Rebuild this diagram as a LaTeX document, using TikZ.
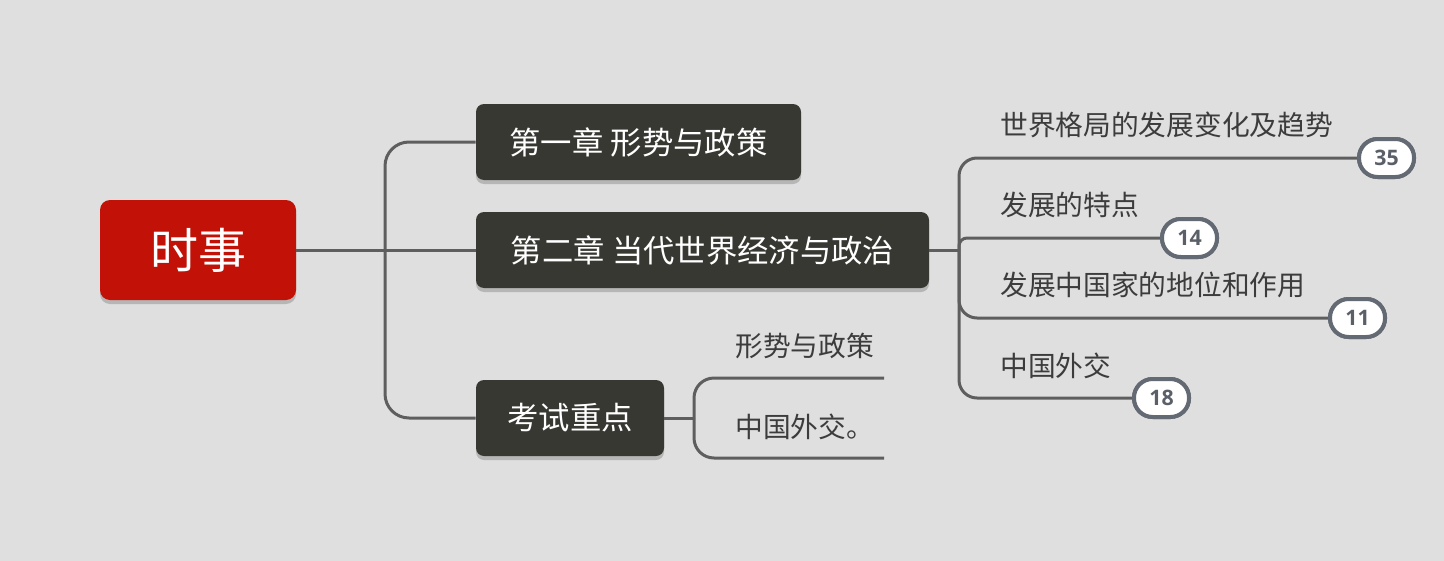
\documentclass[tikz,border=0pt]{standalone}
\usepackage{fontspec}
\setmainfont{Noto Sans CJK SC}
\newfontfamily\numfont{Open Sans}
\usetikzlibrary{shadows}
\definecolor{bgc}{HTML}{DFDFDF}
\definecolor{rootred}{HTML}{C21207}
\definecolor{darkbox}{HTML}{383833}
\definecolor{linec}{HTML}{5E5E5E}
\definecolor{badgec}{HTML}{646A73}
\definecolor{badgetxt}{HTML}{5A5F68}
\definecolor{txtc}{HTML}{3C3C3C}
\tikzset{
  rootbox/.style={fill=rootred, rounded corners=7.5pt, minimum width=147pt, minimum height=75pt,
    text=white, font=\fontsize{36pt}{40pt}\selectfont, inner sep=0pt,
    drop shadow={shadow xshift=0pt, shadow yshift=-3pt, opacity=0.18, fill=black}},
  chapbox/.style={fill=darkbox, rounded corners=6pt, minimum height=57pt,
    text=white, font=\fontsize{23.5pt}{28pt}\selectfont, inner sep=0pt,
    drop shadow={shadow xshift=0pt, shadow yshift=-3pt, opacity=0.18, fill=black}},
  leaf/.style={text=txtc, font=\fontsize{20.8pt}{24pt}\selectfont, inner sep=0pt, anchor=west},
  badge/.style={draw=badgec, line width=3pt, fill=white, rounded corners=14pt,
    minimum width=41.25pt, minimum height=28.5pt, inner sep=0pt, anchor=west,
    text=badgetxt, font=\numfont\bfseries\fontsize{16pt}{18pt}\selectfont},
  conn/.style={draw=linec, line width=2.25pt},
}
\begin{document}
\begin{tikzpicture}[x=0.75pt, y=-0.75pt]
\useasboundingbox (0,0) rectangle (1444,560);
\fill[bgc] (-10,-10) rectangle (1454,570);

% main nodes
\node[rootbox] (root) at (198,250) {时事};
\node[chapbox, minimum width=243.75pt] (c1) at (638.5,142) {第一章 形势与政策};
\node[chapbox, minimum width=339.75pt] (c2) at (702.5,250) {第二章 当代世界经济与政治};
\node[chapbox, minimum width=141pt] (c3) at (570,418) {考试重点};

% junctions
\coordinate (j1) at (385,250);
\coordinate (j2) at (959,250);
\coordinate (j3) at (694,418);

% root branches
\draw[conn] (root.east) -- (c2.west);
\draw[conn, rounded corners=18pt] (j1) |- (c1.west);
\draw[conn, rounded corners=18pt] (j1) |- (c3.west);

% chapter 2 children
\node[badge] (b1) at (1357,158) {35};
\node[badge] (b2) at (1160,238) {14};
\node[badge] (b3) at (1328,318) {11};
\node[badge] (b4) at (1132,398) {18};

\draw[conn] (c2.east) -- (j2);
\draw[conn, rounded corners=13.5pt] (j2) |- (b1.west);
\draw[conn, rounded corners=6pt] (j2) |- (b2.west);
\draw[conn, rounded corners=13.5pt] (j2) |- (b3.west);
\draw[conn, rounded corners=13.5pt] (j2) |- (b4.west);
% badges on top of the connectors
\node[badge] at (1357,158) {35};
\node[badge] at (1160,238) {14};
\node[badge] at (1328,318) {11};
\node[badge] at (1132,398) {18};

\node[leaf] (l1) at (1000,125) {世界格局的发展变化及趋势};
\node[leaf] (l2) at (1000,205) {发展的特点};
\node[leaf] (l3) at (1000,285) {发展中国家的地位和作用};
\node[leaf] (l4) at (1000,366) {中国外交};

% exam key points children
\coordinate (e31) at (884,378);
\coordinate (e32) at (884,458);
\draw[conn] (c3.east) -- (j3);
\draw[conn, rounded corners=15pt] (j3) |- (e31);
\draw[conn, rounded corners=15pt] (j3) |- (e32);
\node[leaf] (l5) at (735,346) {形势与政策};
\node[leaf] (l6) at (735,427) {中国外交。};
\end{tikzpicture}
\end{document}
